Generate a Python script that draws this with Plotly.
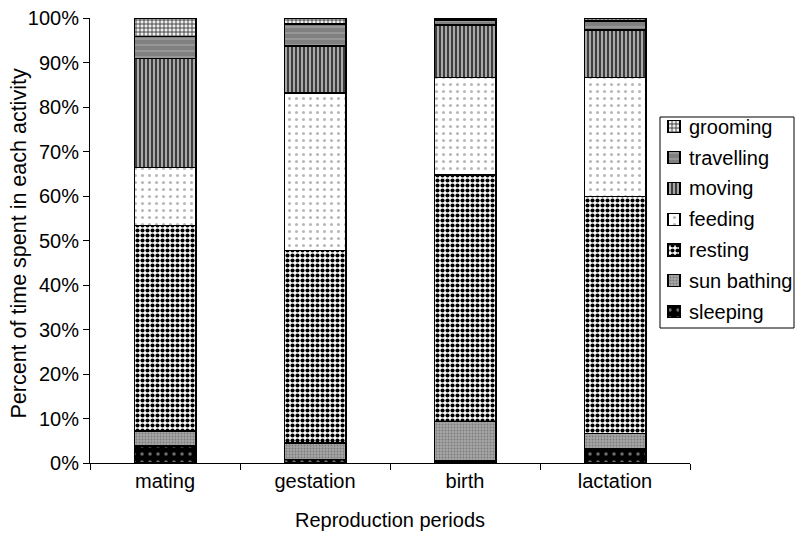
import plotly.graph_objects as go

periods = ["mating", "gestation", "birth", "lactation"]

# percent of time per activity, bottom of the stack first
sleeping = [3.8, 0.8, 0.4, 3.1]
sun_bathing = [3.4, 3.7, 8.9, 3.5]
resting = [46.2, 43.3, 55.4, 53.3]
feeding = [13.0, 35.3, 21.9, 26.7]
moving = [24.5, 10.6, 11.8, 10.7]
travelling = [4.9, 5.0, 1.1, 2.0]
grooming = [4.2, 1.3, 0.5, 0.7]

y_ticks = [0, 10, 20, 30, 40, 50, 60, 70, 80, 90, 100]
y_ticklabels = ["0%", "10%", "20%", "30%", "40%", "50%", "60%", "70%", "80%", "90%", "100%"]

series = [
    ("sleeping", sleeping, dict(shape=".", bgcolor="#000000", fgcolor="#6e6e6e", size=8, solidity=0.15)),
    ("sun bathing", sun_bathing, dict(shape=".", bgcolor="#a6a6a6", fgcolor="#7a7a7a", size=3, solidity=0.3)),
    ("resting", resting, dict(shape=".", bgcolor="#ffffff", fgcolor="#000000", size=5, solidity=0.55)),
    ("feeding", feeding, dict(shape=".", bgcolor="#ffffff", fgcolor="#b8b8b8", size=7, solidity=0.15)),
    ("moving", moving, dict(shape="|", bgcolor="#a8a8a8", fgcolor="#222222", size=4, solidity=0.4)),
    ("travelling", travelling, dict(shape="-", bgcolor="#808080", fgcolor="#9a9a9a", size=6, solidity=0.3)),
    ("grooming", grooming, dict(shape="+", bgcolor="#eeeeee", fgcolor="#3a3a3a", size=4, solidity=0.4)),
]

FONT = "Liberation Sans, Arial, sans-serif"
W, H = 796, 534
ML, MR, MT, MB = 90, 106, 18, 71
PLOT_W = W - ML - MR
PLOT_H = H - MT - MB
BOTTOM = MT + PLOT_H


def px_to_paper_x(px):
    return (px - ML) / PLOT_W


def px_to_paper_y(py):
    return (BOTTOM - py) / PLOT_H


fig = go.Figure()
for name, vals, pat in series:
    fig.add_trace(go.Bar(
        x=periods, y=vals, name=name, showlegend=False,
        marker=dict(color=pat["bgcolor"], pattern=dict(fillmode="replace", **pat),
                    line=dict(color="#000000", width=1.5)),
    ))

# Key box on the right: patterned swatches drawn as tiny bars on a pixel-scaled overlay axis
KEY_LEFT, KEY_RIGHT, KEY_TOP, KEY_BOTTOM = 660, 794, 117, 328
ROW0, ROW_STEP = 126.7, 30.83
SWATCH_X, SWATCH = 674, 12
TEXT_X = 687

for k, (name, vals, pat) in enumerate(reversed(series)):
    cy = ROW0 + k * ROW_STEP
    fig.add_trace(go.Bar(
        x=[SWATCH_X], y=[SWATCH], base=[cy - SWATCH / 2], width=[SWATCH],
        xaxis="x2", yaxis="y2", showlegend=False, hoverinfo="skip",
        marker=dict(color=pat["bgcolor"], pattern=dict(fillmode="replace", **pat),
                    line=dict(color="#000000", width=1.2)),
    ))
    fig.add_annotation(
        text=name, xref="paper", yref="paper",
        x=px_to_paper_x(TEXT_X), y=px_to_paper_y(cy),
        xanchor="left", yanchor="middle", showarrow=False,
        font=dict(family=FONT, size=20, color="#000000"),
    )

fig.add_shape(
    type="rect", xref="paper", yref="paper", layer="above",
    x0=px_to_paper_x(KEY_LEFT), x1=px_to_paper_x(KEY_RIGHT),
    y0=px_to_paper_y(KEY_BOTTOM), y1=px_to_paper_y(KEY_TOP),
    line=dict(color="#000000", width=1), fillcolor="rgba(0,0,0,0)",
)

fig.add_annotation(
    text="Percent of time spent in each activity",
    xref="paper", yref="paper", x=px_to_paper_x(18), y=px_to_paper_y(243.5),
    xanchor="center", yanchor="middle", textangle=-90, showarrow=False,
    font=dict(family=FONT, size=21.5, color="#000000"),
)

fig.update_layout(
    barmode="stack",
    bargap=0.59,
    width=W, height=H,
    margin=dict(l=ML, r=MR, t=MT, b=MB),
    paper_bgcolor="white", plot_bgcolor="white",
    font=dict(family=FONT, size=20, color="#000000"),
    showlegend=False,
    xaxis=dict(
        showline=True, linecolor="#000000", linewidth=1,
        ticks="outside", ticklen=6, tickcolor="#000000", tickson="boundaries",
        showgrid=False, automargin=False,
        tickfont=dict(family=FONT, size=20),
        title=dict(text="Reproduction periods", standoff=21,
                   font=dict(family=FONT, size=20)),
    ),
    yaxis=dict(
        range=[0, 100], tickmode="array", tickvals=y_ticks, ticktext=y_ticklabels,
        showline=True, linecolor="#000000", linewidth=1,
        ticks="outside", ticklen=6, tickcolor="#000000",
        showgrid=False, zeroline=False, automargin=False,
        tickfont=dict(family=FONT, size=20),
    ),
    xaxis2=dict(overlaying="x", range=[ML, ML + PLOT_W], visible=False, fixedrange=True),
    yaxis2=dict(overlaying="y", range=[BOTTOM, MT], visible=False, fixedrange=True),
)

fig.write_html("out.html")
